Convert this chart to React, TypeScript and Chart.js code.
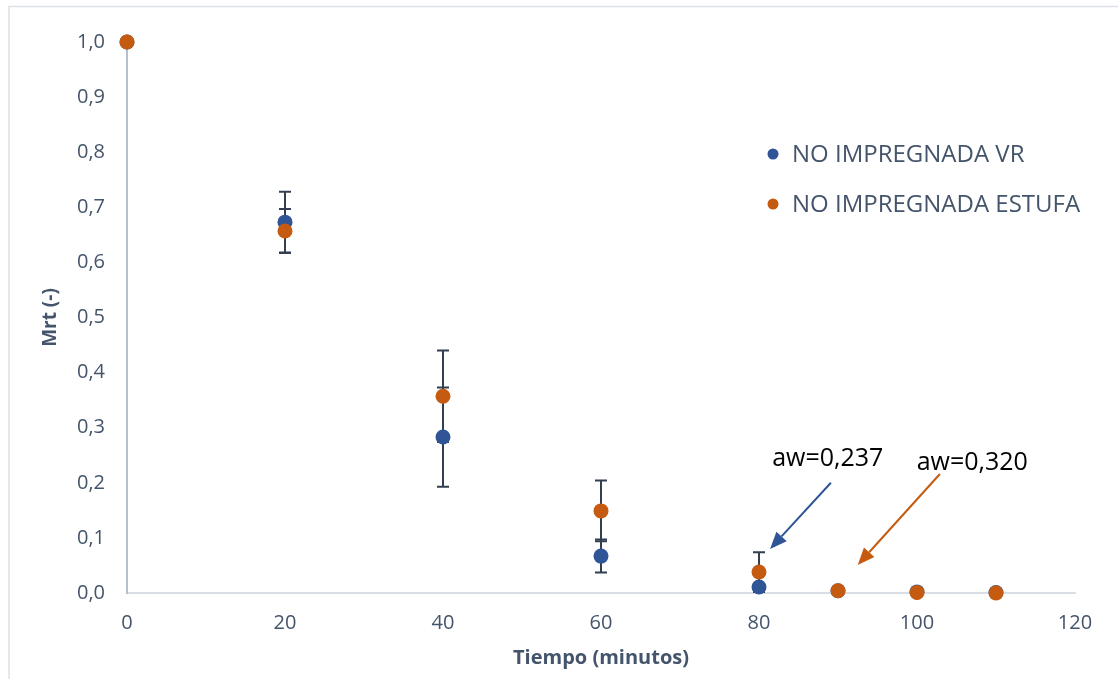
import React, { useEffect, useRef } from "react";
import { Chart, registerables } from "chart.js";

Chart.register(...registerables);

// ---- Data ----
const tiempo = [0, 20, 40, 60, 80, 90, 100, 110];
const mrtVR = [1.0, 0.673, 0.283, 0.067, 0.011, 0.004, 0.002, 0.001];
const errVR = [0, 0.055, 0.09, 0.03, 0.005, 0, 0, 0];
const mrtEstufa = [1.0, 0.657, 0.357, 0.149, 0.038, 0.004, 0.001, 0.0];
const errEstufa = [0, 0.04, 0.083, 0.055, 0.036, 0, 0, 0];
const seriesLabels = ["NO IMPREGNADA VR", "NO IMPREGNADA ESTUFA"];
const xTickLabels = ["0", "20", "40", "60", "80", "100", "120"];
const yTickLabels = ["0,0", "0,1", "0,2", "0,3", "0,4", "0,5", "0,6", "0,7", "0,8", "0,9", "1,0"];
const annotationTexts = ["aw=0,237", "aw=0,320"];
const annotationTextAt = [[88.7, 0.243], [107.0, 0.236]];
const arrowFrom = [[89.1, 0.2], [102.9, 0.216]];
const arrowTo = [[81.4, 0.08], [92.5, 0.051]];

const BLUE = "#2F5597";
const ORANGE = "#C55A11";
const TEXT = "#44546A";
const FONT = "'Open Sans', 'DejaVu Sans', sans-serif";

export default function App() {
  const canvasRef = useRef<HTMLCanvasElement | null>(null);

  useEffect(() => {
    if (!canvasRef.current) return;
    const seriesColors = [BLUE, ORANGE];
    const seriesVals = [mrtVR, mrtEstufa];
    const seriesErr = [errVR, errEstufa];

    const framePlugin = {
      id: "frame",
      beforeDraw(chart: any) {
        const ctx = chart.ctx;
        ctx.save();
        ctx.fillStyle = "#ffffff";
        ctx.fillRect(0, 0, chart.width, chart.height);
        ctx.strokeStyle = "#DDE1E7";
        ctx.lineWidth = 1.5;
        ctx.beginPath();
        ctx.moveTo(9, chart.height);
        ctx.lineTo(9, 6.5);
        ctx.lineTo(chart.width, 6.5);
        ctx.stroke();
        ctx.restore();
      },
    };

    const errorBarPlugin = {
      id: "errorBars",
      beforeDatasetsDraw(chart: any) {
        const ctx = chart.ctx;
        const xs = chart.scales.x;
        const ys = chart.scales.y;
        ctx.save();
        ctx.strokeStyle = "#333F50";
        ctx.lineWidth = 2;
        for (let s = 0; s < seriesVals.length; s++) {
          const vals = seriesVals[s];
          const errs = seriesErr[s];
          for (let i = 0; i < tiempo.length; i++) {
            const e = errs[i];
            if (!e) continue;
            const x = xs.getPixelForValue(tiempo[i]);
            const yt = ys.getPixelForValue(vals[i] + e);
            const yb = ys.getPixelForValue(vals[i] - e);
            ctx.beginPath();
            ctx.moveTo(x, yt);
            ctx.lineTo(x, yb);
            ctx.moveTo(x - 6, yt);
            ctx.lineTo(x + 6, yt);
            ctx.moveTo(x - 6, yb);
            ctx.lineTo(x + 6, yb);
            ctx.stroke();
          }
        }
        ctx.restore();
      },
    };

    const overlayPlugin = {
      id: "overlay",
      afterDraw(chart: any) {
        const ctx = chart.ctx;
        const xs = chart.scales.x;
        const ys = chart.scales.y;
        ctx.save();
        // legend
        const legendRows = [154, 204];
        ctx.font = `24px ${FONT}`;
        ctx.textBaseline = "middle";
        ctx.textAlign = "left";
        for (let s = 0; s < seriesLabels.length; s++) {
          ctx.fillStyle = seriesColors[s];
          ctx.beginPath();
          ctx.arc(773, legendRows[s], 5.5, 0, Math.PI * 2);
          ctx.fill();
          ctx.fillStyle = TEXT;
          ctx.fillText(seriesLabels[s], 792, legendRows[s] + 1);
        }
        // annotations
        ctx.font = `25px ${FONT}`;
        ctx.fillStyle = "#000000";
        ctx.textAlign = "center";
        for (let a = 0; a < annotationTexts.length; a++) {
          const tx = xs.getPixelForValue(annotationTextAt[a][0]);
          const ty = ys.getPixelForValue(annotationTextAt[a][1]);
          ctx.fillText(annotationTexts[a], tx, ty);
        }
        // arrows
        for (let a = 0; a < arrowFrom.length; a++) {
          const x1 = xs.getPixelForValue(arrowFrom[a][0]);
          const y1 = ys.getPixelForValue(arrowFrom[a][1]);
          const x2 = xs.getPixelForValue(arrowTo[a][0]);
          const y2 = ys.getPixelForValue(arrowTo[a][1]);
          const ang = Math.atan2(y2 - y1, x2 - x1);
          const headLen = 17;
          const headW = 7;
          const bx = x2 - headLen * Math.cos(ang);
          const by = y2 - headLen * Math.sin(ang);
          ctx.strokeStyle = seriesColors[a];
          ctx.fillStyle = seriesColors[a];
          ctx.lineWidth = 2;
          ctx.beginPath();
          ctx.moveTo(x1, y1);
          ctx.lineTo(bx, by);
          ctx.stroke();
          ctx.beginPath();
          ctx.moveTo(x2, y2);
          ctx.lineTo(bx + headW * Math.sin(ang), by - headW * Math.cos(ang));
          ctx.lineTo(bx - headW * Math.sin(ang), by + headW * Math.cos(ang));
          ctx.closePath();
          ctx.fill();
        }
        ctx.restore();
      },
    };

    const chart = new Chart(canvasRef.current, {
      type: "scatter",
      data: {
        datasets: [
          {
            label: seriesLabels[0],
            data: tiempo.map((t, i) => ({ x: t, y: mrtVR[i] })),
            backgroundColor: BLUE,
            borderColor: BLUE,
            pointRadius: 7.5,
            pointBorderWidth: 0,
            clip: false,
            order: 1,
          },
          {
            label: seriesLabels[1],
            data: tiempo.map((t, i) => ({ x: t, y: mrtEstufa[i] })),
            backgroundColor: ORANGE,
            borderColor: ORANGE,
            pointRadius: 7.5,
            pointBorderWidth: 0,
            clip: false,
            order: 0,
          },
        ],
      },
      options: {
        animation: false,
        responsive: true,
        maintainAspectRatio: false,
        layout: { padding: { left: 0, right: 43, top: 42, bottom: 0 } },
        plugins: {
          legend: { display: false },
          tooltip: { enabled: false },
        },
        scales: {
          x: {
            type: "linear",
            min: 0,
            max: 120,
            afterFit: (scale: any) => {
              scale.height = 86;
            },
            grid: { display: false, drawTicks: false },
            border: { display: true, color: "#D9DDE5", width: 2 },
            ticks: {
              stepSize: 20,
              padding: 18,
              color: TEXT,
              font: { family: FONT, size: 20 },
              callback: (_v: any, i: number) => xTickLabels[i],
            },
            title: {
              display: true,
              text: "Tiempo (minutos)",
              color: TEXT,
              font: { family: FONT, size: 20, weight: "bold" },
              padding: { top: 0, bottom: 9 },
            },
          },
          y: {
            type: "linear",
            min: 0,
            max: 1,
            afterFit: (scale: any) => {
              scale.width = 127;
            },
            grid: { display: false, drawTicks: false },
            border: { display: true, color: "#B4BFCF", width: 2 },
            ticks: {
              stepSize: 0.1,
              padding: 22,
              color: TEXT,
              font: { family: FONT, size: 20 },
              callback: (_v: any, i: number) => yTickLabels[i],
            },
            title: {
              display: true,
              text: "Mrt (-)",
              color: TEXT,
              font: { family: FONT, size: 19, weight: "bold" },
              padding: { top: 39.5, bottom: 0 },
            },
          },
        },
      },
      plugins: [framePlugin, errorBarPlugin, overlayPlugin],
    } as any);

    return () => chart.destroy();
  }, []);

  return (
    <div style={{ position: "absolute", left: 0, top: 0, width: 1118, height: 679 }}>
      <canvas ref={canvasRef} />
    </div>
  );
}
